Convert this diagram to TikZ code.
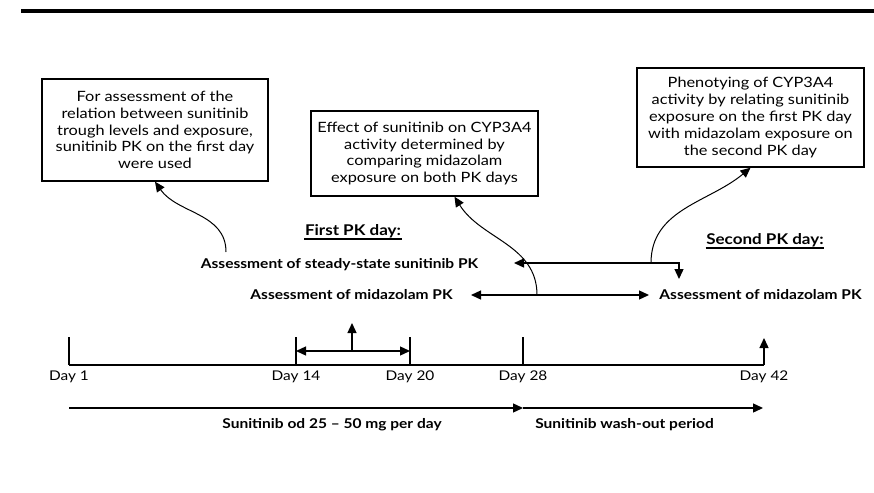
\documentclass[tikz,border=0pt]{standalone}
\usepackage{fontspec}
\setmainfont{Lato}[FakeStretch=1.15]
\usetikzlibrary{arrows.meta}

\tikzset{
  infobox/.style={draw, line width=1.4pt, align=center, inner sep=0pt,
    font=\fontsize{14.2}{16.8}\selectfont},
  pklabel/.style={font=\bfseries\fontsize{13.5}{15}\selectfont},
  daytitle/.style={font=\bfseries\fontsize{14.8}{18}\selectfont, inner sep=0pt, anchor=base},
  daylabel/.style={font=\fontsize{13.4}{15}\selectfont, below=1.5pt},
  tip/.style={-{Triangle[length=10pt,width=9pt]}},
  twotip/.style={{Triangle[length=10pt,width=9pt]}-{Triangle[length=10pt,width=9pt]}},
}

\begin{document}
\begin{tikzpicture}[x=1pt, y=-1pt, line width=1.3pt]
		\useasboundingbox (0,0) rectangle (874,492);
		\draw[line width=3.5pt] (21,11) -- (874,11);

		% Riquadri
		\node[infobox, minimum width=226pt, minimum height=102pt] (box1) at (155,130)
			{For assessment of the\\relation between sunitinib\\trough levels and exposure,\\sunitinib PK on the first day\\were used};
		\node[infobox, minimum width=227pt, minimum height=85pt] (box2) at (424.5,153.5)
			{Effect of sunitinib on CYP3A4\\activity determined by\\comparing midazolam\\exposure on both PK days};
		\node[infobox, minimum width=227pt, minimum height=99pt] (box3) at (750.5,117.5)
			{Phenotying of CYP3A4\\activity by relating sunitinib\\exposure on the first PK day\\with midazolam exposure on\\the second PK day};

		% Giorni PK
		\node[daytitle] (first) at (353,235) {First PK day:};
		\node[daytitle] (second) at (765,244) {Second PK day:};
		\draw[line width=1.8pt] ([yshift=-1pt]first.south west) -- ([yshift=-1pt]first.south east);
		\draw[line width=1.8pt] ([yshift=-1pt]second.south west) -- ([yshift=-1pt]second.south east);

		\node[pklabel] (steady) at (339.5,265) {Assessment of steady-state sunitinib PK};
		\node[pklabel] (midaL) at (351.5,295) {Assessment of midazolam PK};
		\node[pklabel] (midaR) at (760.5,295) {Assessment of midazolam PK};

		\coordinate (ssL) at (514,263);
		\coordinate (ssD) at (679,279);
		\coordinate (mzL) at (471,295);
		\coordinate (mzR) at (649,295);
		\coordinate (from1) at (226,252);
		\coordinate (from2) at (537,295);
		\coordinate (from3) at (651,263);

		% Collegamenti
		\draw[twotip] (ssL) -| (ssD);
		\draw[twotip] (mzL) -- (mzR);
		\draw[tip, line width=1pt] (from1) to[out=90, in=-55] (box1.south);
		\draw[tip, line width=1pt] (from2) to[out=90, in=-58] ([xshift=30pt]box2.south);
		\draw[tip, line width=1pt] (from3) to[out=90, in=-140] (box3.south);

		% Asse dei giorni
		\coordinate (d1) at (69,365);
		\coordinate (d14) at (296,365);
		\coordinate (d20) at (410,365);
		\coordinate (d28) at (523,365);
		\coordinate (d42) at (764,365);
		\draw (d1) -- (d42);
		\foreach \d in {d1,d14,d20,d28}
			\draw (\d) -- ++(0,-28);
		\draw[tip] (d42) -- ++(0,-27);
		\node[daylabel] (l1) at (d1) {Day 1};
		\node[daylabel] (l14) at (d14) {Day 14};
		\node[daylabel] (l20) at (d20) {Day 20};
		\node[daylabel] (l28) at (d28) {Day 28};
		\node[daylabel] (l42) at (d42) {Day 42};

		\coordinate (pA) at (296,351);
		\coordinate (pB) at (410,351);
		\coordinate (pM) at (352,351);
		\draw[twotip] (pA) -- (pB);
		\draw[tip] (pM) -- ++(0,-28);

		% Periodi
		\coordinate (s0) at (69,408);
		\coordinate (s1) at (523,408);
		\coordinate (s2) at (763,408);
		\draw[tip] (s0) -- (s1);
		\draw[tip] (s1) -- (s2);
		\node[pklabel] (dose) at (332,425) {Sunitinib od 25 -- 50 mg per day};
		\node[pklabel] (wash) at (624.5,425) {Sunitinib wash-out period};
	\end{tikzpicture}
\end{document}
